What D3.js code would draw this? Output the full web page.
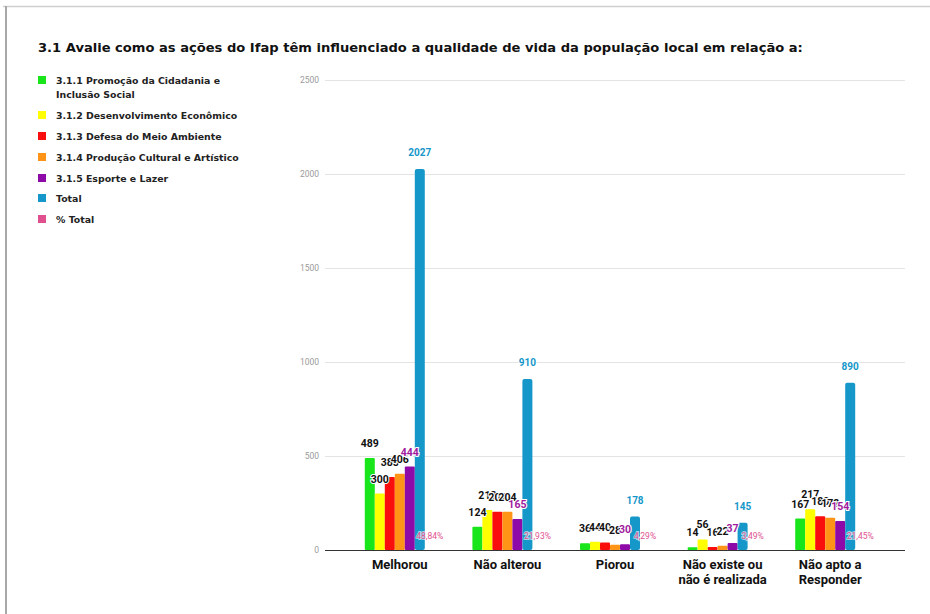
<!DOCTYPE html>
<html>
<head>
<meta charset="utf-8">
<script src="https://cdn.jsdelivr.net/npm/d3@7/dist/d3.min.js"></script>
<style>
  html, body { margin: 0; padding: 0; background: #fff; }
  svg { display: block; font-family: Roboto, "Open Sans", sans-serif; }
</style>
</head>
<body>
<svg id="chart" width="930" height="614"></svg>
<script>
// Categories (answer options) and values per item
const categories = ["Melhorou", "Não alterou", "Piorou", "Não existe ou não é realizada", "Não apto a Responder"];
const categoryLines = [["Melhorou"], ["Não alterou"], ["Piorou"], ["Não existe ou", "não é realizada"], ["Não apto a", "Responder"]];
const seriesNames = [
  "3.1.1 Promoção da Cidadania e Inclusão Social",
  "3.1.2 Desenvolvimento Econômico",
  "3.1.3 Defesa do Meio Ambiente",
  "3.1.4 Produção Cultural e Artístico",
  "3.1.5 Esporte e Lazer",
  "Total",
  "% Total"
];
const cidadania   = [489, 124, 36, 14, 167];
const economico   = [300, 213, 44, 56, 217];
const ambiente    = [388, 204, 40, 16, 180];
const cultural    = [406, 204, 28, 22, 172];
const esporte     = [444, 165, 30, 37, 154];
const total       = [2027, 910, 178, 145, 890];
const pctTotal    = [48.84, 21.93, 4.29, 3.49, 21.45];
const yTicks = [0, 500, 1000, 1500, 2000, 2500];

const colors = ["#19e51b", "#ffff00", "#f90d0d", "#ff9416", "#8e0aa8", "#1697c9", "#e0508f"];
const labelColors = ["#111", "#111", "#111", "#111", "#a0199e", "#1697c9", "#e0508f"];
const seriesValues = [cidadania, economico, ambiente, cultural, esporte, total, pctTotal];

const svg = d3.select("#chart");
const headFont = "'DejaVu Sans', Verdana, sans-serif";

// Shrink/grow a text element's font so it spans the given width
function fitWidth(sel, width) {
  const node = sel.node();
  const fs = parseFloat(sel.attr("font-size"));
  const w = node.getComputedTextLength();
  if (w > 0) sel.attr("font-size", (fs * width / w).toFixed(2));
}

// Frame lines
svg.append("line").attr("x1", 3).attr("x2", 930).attr("y1", 6.5).attr("y2", 6.5)
  .attr("stroke", "#d0d0d0").attr("stroke-width", 1.5);
svg.append("line").attr("x1", 6).attr("x2", 6).attr("y1", 6).attr("y2", 614)
  .attr("stroke", "#a8a8a8").attr("stroke-width", 2);

// Title
const title = svg.append("text").attr("x", 38).attr("y", 52)
  .attr("font-family", headFont)
  .attr("font-size", 13).attr("font-weight", 700).attr("fill", "#111")
  .text("3.1 Avalie como as ações do Ifap têm influenciado a qualidade de vida da população local em relação a:");
fitWidth(title, 765);

// Legend
const legendRows = [
  { y: 80, lines: ["3.1.1 Promoção da Cidadania e", "Inclusão Social"] },
  { y: 115, lines: [seriesNames[1]] },
  { y: 136, lines: [seriesNames[2]] },
  { y: 157, lines: [seriesNames[3]] },
  { y: 178, lines: [seriesNames[4]] },
  { y: 198, lines: [seriesNames[5]] },
  { y: 219, lines: [seriesNames[6]] }
];
const legend = svg.append("g");
legendRows.forEach((r, i) => {
  legend.append("rect").attr("x", 38).attr("y", r.y - 4).attr("width", 8).attr("height", 8)
    .attr("fill", colors[i]);
  r.lines.forEach((ln, j) => {
    const t = legend.append("text").attr("x", 56).attr("y", r.y + 3.5 + j * 14)
      .attr("font-family", headFont)
      .attr("font-size", 9).attr("font-weight", 700).attr("fill", "#222").text(ln);
    if (i === 0 && j === 0) fitWidth(t, 164);
  });
});
// keep the legend in one consistent size
const legendSize = legend.select("text").attr("font-size");
legend.selectAll("text").attr("font-size", legendSize);

// Scales
const margin = { left: 325, right: 905, top: 80, bottom: 550 };
const x0 = d3.scaleBand().domain(categories).range([346, 884]).paddingInner(0).paddingOuter(0);
const barW = 10;
const x1 = d3.scaleBand().domain(d3.range(seriesNames.length))
  .range([0, barW * seriesNames.length]);
const y = d3.scaleLinear().domain([0, 2500]).range([margin.bottom, margin.top]);

// Gridlines + y axis labels
const yAxis = d3.axisLeft(y).tickValues(yTicks).tickFormat(d3.format("d"))
  .tickSize(-(margin.right - margin.left)).tickPadding(6);
const gy = svg.append("g").attr("transform", `translate(${margin.left},0)`).call(yAxis);
gy.select(".domain").remove();
gy.selectAll(".tick line").attr("stroke", d => d === 0 ? "#333" : "#e4e4e4").attr("stroke-width", 1);
gy.selectAll(".tick text").attr("fill", "#9a9a9a").attr("font-size", 8.5)
  .attr("font-family", "Roboto, sans-serif");
gy.selectAll(".tick").filter(d => d === 0).raise();

// Bars
const groups = svg.append("g").selectAll("g").data(categories).join("g")
  .attr("transform", c => `translate(${x0(c) + x0.bandwidth() / 2 - barW * seriesNames.length / 2},0)`);

groups.each(function (c, ci) {
  const g = d3.select(this);
  seriesValues.forEach((vals, si) => {
    if (si === 6) return; // % series is drawn as a label only
    const v = vals[ci];
    g.append("rect").attr("x", x1(si)).attr("width", x1.bandwidth())
      .attr("y", y(v)).attr("height", y(0) - y(v)).attr("fill", colors[si])
      .attr("rx", si === 5 ? 2 : 1);
  });
});

// Value labels
groups.each(function (c, ci) {
  const g = d3.select(this);
  seriesValues.forEach((vals, si) => {
    const v = vals[ci];
    const cx = x1(si) + x1.bandwidth() / 2;
    if (si === 6) {
      g.append("text").attr("x", cx).attr("y", y(0) - 11)
        .attr("text-anchor", "middle").attr("font-size", 8.5).attr("fill", colors[6])
        .attr("stroke", "#fff").attr("stroke-width", 2).attr("paint-order", "stroke")
        .attr("stroke-opacity", 0.6)
        .text(v.toFixed(2).replace(".", ",") + "%");
      return;
    }
    g.append("text").attr("x", cx).attr("y", y(v) - (si === 5 ? 13 : 11))
      .attr("text-anchor", "middle").attr("font-size", si === 5 ? 10 : 10.5)
      .attr("font-weight", 700).attr("fill", labelColors[si])
      .attr("stroke", "#fff").attr("stroke-width", 2).attr("paint-order", "stroke")
      .text(v);
  });
});

// Category labels
const cat = svg.append("g");
categories.forEach((c, i) => {
  categoryLines[i].forEach((ln, j) => {
    cat.append("text").attr("x", x0(c) + x0.bandwidth() / 2).attr("y", 569 + j * 15)
      .attr("text-anchor", "middle").attr("font-size", 13).attr("font-weight", 700)
      .attr("fill", "#111").text(ln);
  });
});
</script>
</body>
</html>
